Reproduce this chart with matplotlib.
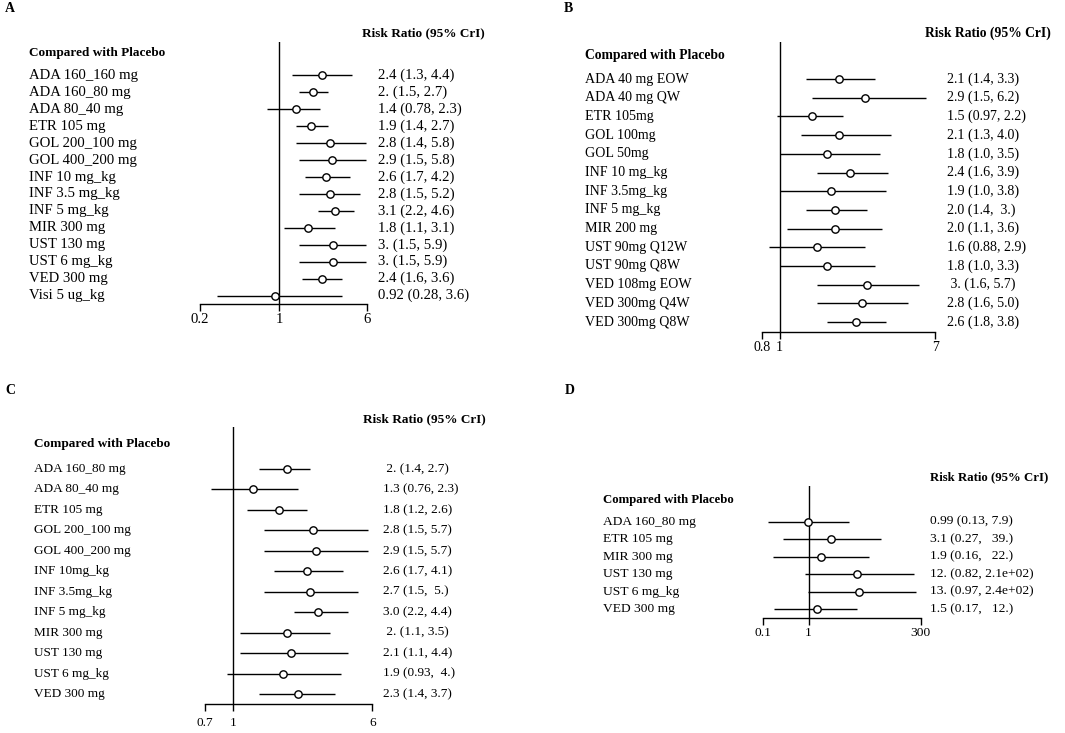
import matplotlib
matplotlib.use('Agg')
import matplotlib.pyplot as plt
from matplotlib.ticker import NullLocator, FixedLocator, FixedFormatter

W, H = 1065, 733
plt.rcParams['font.family'] = ['Liberation Serif', 'DejaVu Serif']

# ---------------- Panel A ----------------
a_labels = ["ADA 160_160 mg", "ADA 160_80 mg", "ADA 80_40 mg", "ETR 105 mg",
            "GOL 200_100 mg", "GOL 400_200 mg", "INF 10 mg_kg", "INF 3.5 mg_kg",
            "INF 5 mg_kg", "MIR 300 mg", "UST 130 mg", "UST 6 mg_kg",
            "VED 300 mg", "Visi 5 ug_kg"]
a_est = [2.4, 2.0, 1.4, 1.9, 2.8, 2.9, 2.6, 2.8, 3.1, 1.8, 3.0, 3.0, 2.4, 0.92]
a_lo = [1.3, 1.5, 0.78, 1.4, 1.4, 1.5, 1.7, 1.5, 2.2, 1.1, 1.5, 1.5, 1.6, 0.28]
a_hi = [4.4, 2.7, 2.3, 2.7, 5.8, 5.8, 4.2, 5.2, 4.6, 3.1, 5.9, 5.9, 3.6, 3.6]
a_text = ["2.4 (1.3, 4.4)", "2. (1.5, 2.7)", "1.4 (0.78, 2.3)", "1.9 (1.4, 2.7)",
          "2.8 (1.4, 5.8)", "2.9 (1.5, 5.8)", "2.6 (1.7, 4.2)", "2.8 (1.5, 5.2)",
          "3.1 (2.2, 4.6)", "1.8 (1.1, 3.1)", "3. (1.5, 5.9)", "3. (1.5, 5.9)",
          "2.4 (1.6, 3.6)", "0.92 (0.28, 3.6)"]
a_ticks = [0.2, 1, 6]
a_ticklabels = ["0.2", "1", "6"]

# ---------------- Panel B ----------------
b_labels = ["ADA 40 mg EOW", "ADA 40 mg QW", "ETR 105mg", "GOL 100mg", "GOL 50mg",
            "INF 10 mg_kg", "INF 3.5mg_kg", "INF 5 mg_kg", "MIR 200 mg",
            "UST 90mg Q12W", "UST 90mg Q8W", "VED 108mg EOW", "VED 300mg Q4W",
            "VED 300mg Q8W"]
b_est = [2.1, 2.9, 1.5, 2.1, 1.8, 2.4, 1.9, 2.0, 2.0, 1.6, 1.8, 3.0, 2.8, 2.6]
b_lo = [1.4, 1.5, 0.97, 1.3, 1.0, 1.6, 1.0, 1.4, 1.1, 0.88, 1.0, 1.6, 1.6, 1.8]
b_hi = [3.3, 6.2, 2.2, 4.0, 3.5, 3.9, 3.8, 3.0, 3.6, 2.9, 3.3, 5.7, 5.0, 3.8]
b_text = ["2.1 (1.4, 3.3)", "2.9 (1.5, 6.2)", "1.5 (0.97, 2.2)", "2.1 (1.3, 4.0)",
          "1.8 (1.0, 3.5)", "2.4 (1.6, 3.9)", "1.9 (1.0, 3.8)", "2.0 (1.4,  3.)",
          "2.0 (1.1, 3.6)", "1.6 (0.88, 2.9)", "1.8 (1.0, 3.3)", " 3. (1.6, 5.7)",
          "2.8 (1.6, 5.0)", "2.6 (1.8, 3.8)"]
b_ticks = [0.8, 1, 7]
b_ticklabels = ["0.8", "1", "7"]

# ---------------- Panel C ----------------
c_labels = ["ADA 160_80 mg", "ADA 80_40 mg", "ETR 105 mg", "GOL 200_100 mg",
            "GOL 400_200 mg", "INF 10mg_kg", "INF 3.5mg_kg", "INF 5 mg_kg",
            "MIR 300 mg", "UST 130 mg", "UST 6 mg_kg", "VED 300 mg"]
c_est = [2.0, 1.3, 1.8, 2.8, 2.9, 2.6, 2.7, 3.0, 2.0, 2.1, 1.9, 2.3]
c_lo = [1.4, 0.76, 1.2, 1.5, 1.5, 1.7, 1.5, 2.2, 1.1, 1.1, 0.93, 1.4]
c_hi = [2.7, 2.3, 2.6, 5.7, 5.7, 4.1, 5.0, 4.4, 3.5, 4.4, 4.0, 3.7]
c_text = [" 2. (1.4, 2.7)", "1.3 (0.76, 2.3)", "1.8 (1.2, 2.6)", "2.8 (1.5, 5.7)",
          "2.9 (1.5, 5.7)", "2.6 (1.7, 4.1)", "2.7 (1.5,  5.)", "3.0 (2.2, 4.4)",
          " 2. (1.1, 3.5)", "2.1 (1.1, 4.4)", "1.9 (0.93,  4.)", "2.3 (1.4, 3.7)"]
c_ticks = [0.7, 1, 6]
c_ticklabels = ["0.7", "1", "6"]

# ---------------- Panel D ----------------
d_labels = ["ADA 160_80 mg", "ETR 105 mg", "MIR 300 mg", "UST 130 mg",
            "UST 6 mg_kg", "VED 300 mg"]
d_est = [0.99, 3.1, 1.9, 12.0, 13.0, 1.5]
d_lo = [0.13, 0.27, 0.16, 0.82, 0.97, 0.17]
d_hi = [7.9, 39.0, 22.0, 210.0, 240.0, 12.0]
d_text = ["0.99 (0.13, 7.9)", "3.1 (0.27,   39.)", "1.9 (0.16,   22.)",
          "12. (0.82, 2.1e+02)", "13. (0.97, 2.4e+02)", "1.5 (0.17,   12.)"]
d_ticks = [0.1, 1, 300]
d_ticklabels = ["0.1", "1", "300"]

fig = plt.figure(figsize=(W / 100, H / 100), dpi=100)


def fx(px):
    return px / W


def fy(py):
    return 1 - py / H


def panel(letter, labels, est, lo, hi, texts, ticks, ticklabels, geo, fs, hfs,
          tpad=1.5):
    (x0p, x1p, vtop, spine, row0, step, lab_x, head_y,
     rr_x, rr_y, val_x, let_x, let_y) = geo
    ax = fig.add_axes([fx(x0p), fy(spine), (x1p - x0p) / W, (spine - vtop) / H])
    ax.set_xscale('log')
    ax.set_xlim(ticks[0], ticks[-1])
    ax.set_ylim((spine - row0) / step, (vtop - row0) / step)
    ax.patch.set_alpha(0)
    for s in ['top', 'right', 'left']:
        ax.spines[s].set_visible(False)
    ax.spines['bottom'].set_linewidth(1.0)
    ax.xaxis.set_major_locator(FixedLocator(ticks))
    ax.xaxis.set_major_formatter(FixedFormatter(ticklabels))
    ax.xaxis.set_minor_locator(NullLocator())
    ax.tick_params(axis='x', direction='out', length=5, width=1.0,
                   labelsize=fs, pad=tpad)
    ax.set_yticks([])
    ax.axvline(1, color='black', lw=1.0, zorder=1)
    n = len(labels)
    for i in range(n):
        ax.plot([lo[i], hi[i]], [i, i], color='black', lw=1.0, zorder=2,
                clip_on=False, solid_capstyle='butt')
        ax.plot([est[i]], [i], marker='o', ms=5.3, mfc='white', mec='black',
                mew=1.0, zorder=3, clip_on=False)
        ypx = row0 + i * step
        fig.text(fx(lab_x), fy(ypx), labels[i], fontsize=fs, va='center',
                 ha='left')
        fig.text(fx(val_x), fy(ypx), texts[i], fontsize=fs, va='center',
                 ha='left')
    fig.text(fx(lab_x), fy(head_y), "Compared with Placebo", fontsize=hfs,
             fontweight='bold', va='center', ha='left')
    fig.text(fx(rr_x), fy(rr_y), "Risk Ratio (95% CrI)", fontsize=hfs,
             fontweight='bold', va='center', ha='left')
    fig.text(fx(let_x), fy(let_y), letter, fontsize=10, fontweight='bold',
             va='center', ha='left')


panel("A", a_labels, a_est, a_lo, a_hi, a_text, a_ticks, a_ticklabels,
      (200, 367.3, 42, 304, 75.3, 16.95, 29, 53.3, 362, 33, 378, 5, 8),
      10.6, 9.5)
panel("B", b_labels, b_est, b_lo, b_hi, b_text, b_ticks, b_ticklabels,
      (761.7, 935.3, 41.7, 332.3, 79, 18.7, 585, 55.7, 925, 33, 946.7, 564, 8),
      10.1, 9.8)
panel("C", c_labels, c_est, c_lo, c_hi, c_text, c_ticks, c_ticklabels,
      (205, 372.3, 427.3, 704.3, 469, 20.45, 34.3, 444, 362.7, 419, 382.7, 5, 390),
      9.5, 9.5, tpad=4.5)
panel("D", d_labels, d_est, d_lo, d_hi, d_text, d_ticks, d_ticklabels,
      (763.3, 920.7, 486, 618.3, 521.7, 17.5, 603.3, 500, 930, 477.3, 930, 565, 390),
      9.7, 9.2)

fig.savefig('out.png', dpi=100)
